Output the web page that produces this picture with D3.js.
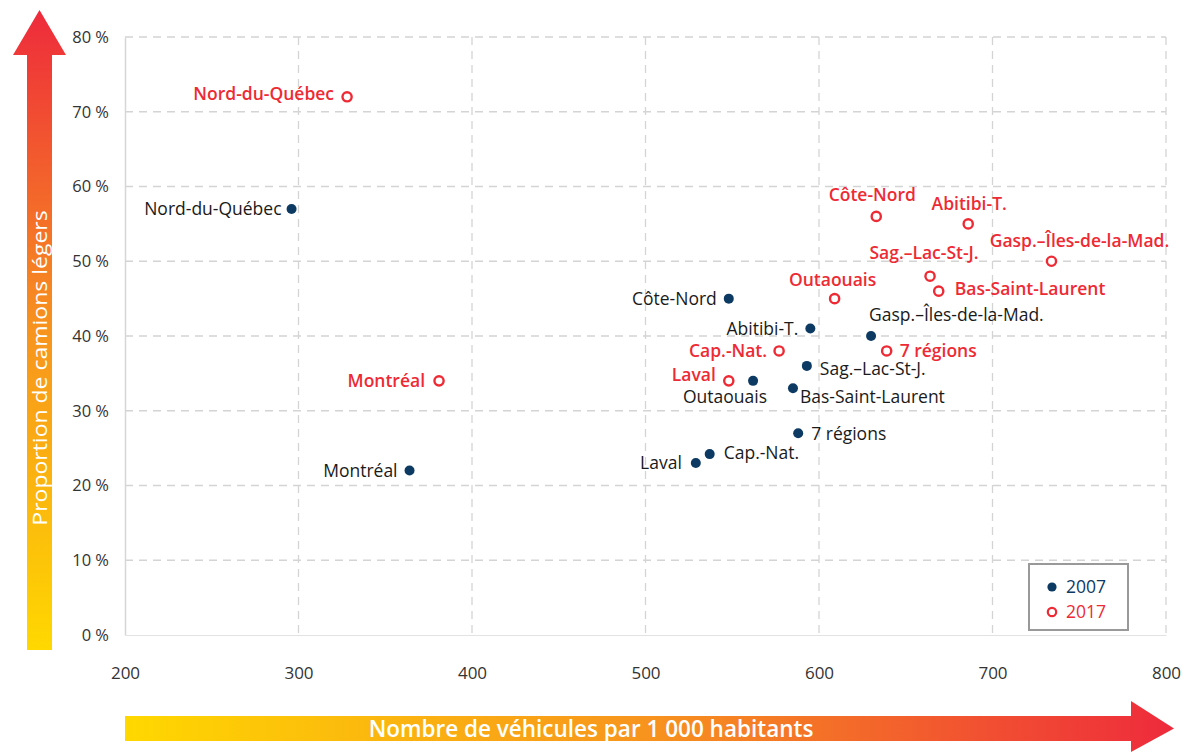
<!DOCTYPE html>
<html>
<head>
<meta charset="utf-8">
<script src="https://cdn.jsdelivr.net/npm/d3@7"></script>
<style>
  body { margin: 0; background: #fff; }
  svg { display: block; font-family: "Open Sans", "Noto Sans", sans-serif; }
</style>
</head>
<body>
<div id="chart"></div>
<script>
// Data
const regions = ["Nord-du-Québec", "Côte-Nord", "Abitibi-T.", "Gasp.–Îles-de-la-Mad.", "Sag.–Lac-St-J.",
                 "Outaouais", "Bas-Saint-Laurent", "7 régions", "Cap.-Nat.", "Laval", "Montréal"];
const vehicles2007 = [296, 548, 595, 630, 593, 562, 585, 588, 537, 529, 364];
const trucks2007   = [57, 45, 41, 40, 36, 34, 33, 27, 24.2, 23, 22];
const vehicles2017 = [328, 633, 686, 734, 664, 609, 669, 639, 577, 548, 381];
const trucks2017   = [72, 56, 55, 50, 48, 45, 46, 38, 38, 34, 34];
const xTicks = [200, 300, 400, 500, 600, 700, 800];
const yTicks = [0, 10, 20, 30, 40, 50, 60, 70, 80];
const years = ["2007", "2017"];

// label placement per region [dx, dy, anchor]
const labelPos2007 = [[-10, 0, "end"], [-12, 0, "end"], [-12, 0, "end"], [-2, -21, "start"], [13, 3, "start"],
                      [14, 16, "end"], [7, 9, "start"], [13, 1, "start"], [14, -1, "start"], [-14, 0, "end"], [-12, 0, "end"]];
const labelPos2017 = [[-13, -3, "end"], [-4, -22, "middle"], [1, -20, "middle"], [28, -20, "middle"], [-6, -23, "middle"],
                      [-2, -19, "middle"], [16, -2, "start"], [13, 0, "start"], [-12, 0, "end"], [-13, -6, "end"], [-14, 0, "end"]];

const navy = "#0c3a63";
const red = "#ee2a34";

const width = 1186, height = 752;
const svg = d3.select("#chart").append("svg")
    .attr("width", width)
    .attr("height", height);

const defs = svg.append("defs");
const gradY = defs.append("linearGradient").attr("id", "gradY")
    .attr("x1", 0).attr("y1", 1).attr("x2", 0).attr("y2", 0);
gradY.append("stop").attr("offset", "0%").attr("stop-color", "#ffd800");
gradY.append("stop").attr("offset", "50%").attr("stop-color", "#f7931e");
gradY.append("stop").attr("offset", "100%").attr("stop-color", "#ee2a3c");
const gradX = defs.append("linearGradient").attr("id", "gradX")
    .attr("x1", 0).attr("y1", 0).attr("x2", 1).attr("y2", 0);
gradX.append("stop").attr("offset", "0%").attr("stop-color", "#ffd800");
gradX.append("stop").attr("offset", "50%").attr("stop-color", "#f7931e");
gradX.append("stop").attr("offset", "100%").attr("stop-color", "#ee2a3c");

// scales
const x = d3.scaleLinear().domain([200, 800]).range([125, 1166]);
const y = d3.scaleLinear().domain([0, 80]).range([635, 37]);

// grid
const grid = svg.append("g");
grid.selectAll(".hgrid").data(yTicks.filter(d => d > 0)).enter().append("line")
    .attr("x1", x(200)).attr("x2", x(800))
    .attr("y1", d => y(d)).attr("y2", d => y(d))
    .attr("stroke", "#d4d4d4").attr("stroke-width", 1.3).attr("stroke-dasharray", "8,6");
grid.selectAll(".vgrid").data(xTicks.filter(d => d > 200)).enter().append("line")
    .attr("x1", d => x(d)).attr("x2", d => x(d))
    .attr("y1", y(80)).attr("y2", y(0))
    .attr("stroke", "#d4d4d4").attr("stroke-width", 1.3).attr("stroke-dasharray", "8,6");

// axes
const yAxis = svg.append("g")
    .attr("transform", `translate(${x(200)},0)`)
    .call(d3.axisLeft(y).tickValues(yTicks).tickSize(0).tickPadding(16)
        .tickFormat(d => d + " %"));
yAxis.select(".domain").attr("stroke", "#d6d6d6").attr("stroke-width", 1.5);
yAxis.selectAll("text").attr("font-size", 16.5).attr("fill", "#333").attr("font-family", "Open Sans");

const xAxis = svg.append("g")
    .attr("transform", `translate(0,${y(0)})`)
    .call(d3.axisBottom(x).tickValues(xTicks).tickSize(0).tickPadding(32));
xAxis.select(".domain").attr("stroke", "#e2e2e2").attr("stroke-width", 1.2);
xAxis.selectAll("text").attr("font-size", 17).attr("fill", "#333").attr("font-family", "Open Sans");

// y arrow
svg.append("path")
    .attr("d", "M27,650 L27,55 L13,55 L39.5,10 L66,55 L52,55 L52,650 Z")
    .attr("fill", "url(#gradY)");
svg.append("text")
    .attr("transform", "translate(47,368) scale(0.85,1) rotate(-90)")
    .attr("text-anchor", "middle")
    .attr("font-size", 23)
    .attr("fill", "#fff")
    .text("Proportion de camions légers");

// x arrow
svg.append("path")
    .attr("d", "M125,716 L1131,716 L1131,701 L1174,728.5 L1131,752 L1131,741 L125,741 Z")
    .attr("fill", "url(#gradX)");
svg.append("text")
    .attr("x", 591).attr("y", 736.5)
    .attr("text-anchor", "middle")
    .attr("font-size", 22.5)
    .attr("font-weight", 600)
    .attr("fill", "#fff")
    .text("Nombre de véhicules par 1 000 habitants");

// points 2007
const pts = svg.append("g");
pts.selectAll(".p07").data(regions).enter().append("circle")
    .attr("cx", (d, i) => x(vehicles2007[i]))
    .attr("cy", (d, i) => y(trucks2007[i]))
    .attr("r", 5)
    .attr("fill", navy);
pts.selectAll(".l07").data(regions).enter().append("text")
    .attr("x", (d, i) => x(vehicles2007[i]) + labelPos2007[i][0])
    .attr("y", (d, i) => y(trucks2007[i]) + labelPos2007[i][1])
    .attr("dy", "0.35em")
    .attr("text-anchor", (d, i) => labelPos2007[i][2])
    .attr("font-size", 17.5)
    .attr("fill", "#1a1a1a")
    .text(d => d);

// points 2017
pts.selectAll(".p17").data(regions).enter().append("circle")
    .attr("cx", (d, i) => x(vehicles2017[i]))
    .attr("cy", (d, i) => y(trucks2017[i]))
    .attr("r", 4.6)
    .attr("fill", "#fff")
    .attr("stroke", red)
    .attr("stroke-width", 2.4);
pts.selectAll(".l17").data(regions).enter().append("text")
    .attr("x", (d, i) => x(vehicles2017[i]) + labelPos2017[i][0])
    .attr("y", (d, i) => y(trucks2017[i]) + labelPos2017[i][1])
    .attr("dy", "0.35em")
    .attr("text-anchor", (d, i) => labelPos2017[i][2])
    .attr("font-size", 17.5)
    .attr("font-weight", 600)
    .attr("fill", red)
    .text(d => d);

// legend
const legend = svg.append("g").attr("transform", "translate(1029,564)");
legend.append("rect")
    .attr("width", 99).attr("height", 66)
    .attr("fill", "#fff").attr("stroke", "#999").attr("stroke-width", 2);
years.forEach((yr, i) => {
    const row = legend.append("g").attr("transform", `translate(0,${23 + i * 25})`);
    if (i === 0) {
        row.append("circle").attr("cx", 23).attr("cy", 0).attr("r", 4.6).attr("fill", navy);
    } else {
        row.append("circle").attr("cx", 23).attr("cy", 0).attr("r", 4.2)
            .attr("fill", "#fff").attr("stroke", red).attr("stroke-width", 2.2);
    }
    row.append("text")
        .attr("x", 37).attr("y", 0).attr("dy", "0.35em")
        .attr("font-size", 17.5)
        .attr("fill", i === 0 ? navy : red)
        .text(yr);
});
</script>
</body>
</html>
